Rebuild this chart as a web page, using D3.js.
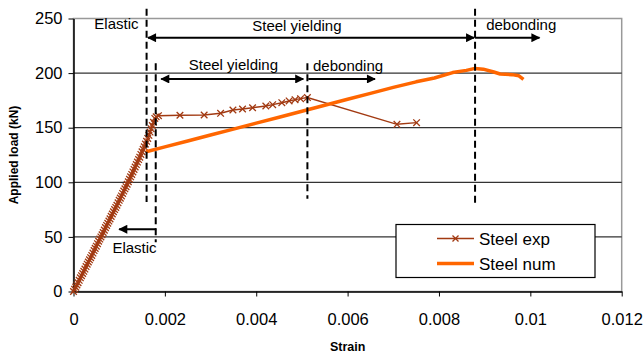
<!DOCTYPE html>
<meta charset="utf-8">
<style>
body { margin: 0; background: #fff; }
text { font-family: Arial, "Liberation Sans", sans-serif; fill: #000; }
.tick text { font-size: 16.5px; }
.axis path, .axis line { stroke: #000; }
.grid line { stroke: #333; stroke-width: 1.2px; }
.note { font-size: 15px; }
.vdash { stroke: #000; stroke-width: 2px; stroke-dasharray: 7,4; }
.arrow { stroke: #000; stroke-width: 2px; }
</style>
<svg width="644" height="355"></svg>
<script src="https://d3js.org/d3.v7.min.js"></script>
<script>

// Steel exp: strain, load (kN)
var expStrain = [0, 0.000025, 0.00005, 0.000075, 0.0001, 0.000125, 0.00015, 0.000175, 0.0002, 0.000225,
    0.00025, 0.000275, 0.0003, 0.000325, 0.00035, 0.000375, 0.0004, 0.000425, 0.00045, 0.000475,
    0.0005, 0.000525, 0.00055, 0.000575, 0.0006, 0.000625, 0.00065, 0.000675, 0.0007, 0.000725,
    0.00075, 0.000775, 0.0008, 0.000825, 0.00085, 0.000875, 0.0009, 0.000925, 0.00095, 0.000975,
    0.001, 0.001025, 0.00105, 0.001075, 0.0011, 0.001125, 0.00115, 0.001175, 0.0012, 0.001225,
    0.00125, 0.001275, 0.0013, 0.001325, 0.00135, 0.001375, 0.0014, 0.001425, 0.00145, 0.001475,
    0.0015, 0.001525, 0.00155, 0.001575, 0.0016, 0.001625, 0.00165, 0.001675, 0.0017, 0.001725,
    0.00175, 0.00178, 0.00181,
    0.00186, 0.00233, 0.00286, 0.00322, 0.00349, 0.0037, 0.00392, 0.00421, 0.00436,
    0.00456, 0.00472, 0.00485, 0.00497, 0.00512, 0.00708, 0.00751];
var expLoad = [0, 2, 4, 6, 8, 10.2, 12.5, 14.5, 16.5, 18.5,
    20.5, 22.8, 25, 27, 29, 31, 33, 35.2, 37.5, 39.5,
    41.5, 43.8, 46, 48, 50, 52, 54, 56.2, 58.5, 60.5,
    62.5, 64.5, 66.5, 68.8, 71, 73, 75, 77, 79, 81.2,
    83.5, 85.5, 87.5, 89.8, 92, 94, 96, 98.2, 100.5, 102.8,
    105, 107.2, 109.5, 111.8, 114, 116.2, 118.5, 120.8, 123, 125.5,
    128, 130.2, 132.5, 135, 137.5, 140.2, 143, 146, 149, 152,
    155, 158.5, 160,
    161, 161.4, 161.6, 163.2, 166.2, 167.1, 168.3, 169.9, 171.1,
    172.9, 174.5, 175.7, 176.6, 177.6, 153.1, 154.6];

// Steel num: strain, load (kN)
var numStrain = [0.00159, 0.002, 0.0025, 0.003, 0.0035, 0.004, 0.0045, 0.005, 0.0055, 0.006,
    0.0065, 0.007, 0.0075, 0.0079, 0.0083, 0.0086, 0.00879, 0.00897, 0.0092, 0.00934,
    0.0096, 0.00975, 0.00985];
var numLoad = [128, 132.4, 137.8, 143.3, 148.7, 154.2, 159.6, 165.1, 170.5, 176,
    181.4, 186.9, 192, 195.5, 200.5, 202.5, 204.3, 203.6, 201, 199.2,
    198.6, 197.5, 194.3];

var xTicks = [0, 0.002, 0.004, 0.006, 0.008, 0.01, 0.012];
var yTicks = [0, 50, 100, 150, 200, 250];

// dashed phase boundaries (strain, from load, to load)
var dashX = [0.0016, 0.0018, 0.00512, 0.00879];
var dashFrom = [82, 45, 85, 81];
var dashTo = [259, 209, 209, 259];

// phase arrows (strain from, strain to, load, double headed)
var arrowFrom = [0.00163, 0.00879, 0.00192, 0.00514, 0.00181];
var arrowTo = [0.00877, 0.0102, 0.00503, 0.0066, 0.001];
var arrowLoad = [232.4, 232.4, 194.6, 194.6, 57];
var arrowBoth = [true, false, true, false, false];

// phase labels
var noteText = ["Elastic", "Steel yielding", "debonding", "Steel yielding", "debonding", "Elastic"];
var noteX = [0.00094, 0.00489, 0.0098, 0.0035, 0.00601, 0.001335];
var noteY = [240, 238.8, 239.5, 202.8, 201.9, 35];

var svg = d3.select("svg");
var pLeft = 73.5, pRight = 621.7, pTop = 18.5, pBottom = 291.5;

var x = d3.scaleLinear().domain([0, 0.012]).range([pLeft, pRight]);
var y = d3.scaleLinear().domain([0, 250]).range([pBottom, pTop]);

var defs = svg.append("defs");
defs.append("marker")
    .attr("id", "head")
    .attr("viewBox", "0 0 10 10")
    .attr("refX", 9).attr("refY", 5)
    .attr("markerWidth", 10).attr("markerHeight", 9)
    .attr("markerUnits", "userSpaceOnUse")
    .attr("orient", "auto-start-reverse")
    .append("path")
    .attr("d", "M0,0 L10,5 L0,10 Z")
    .attr("fill", "#000");

// plot frame (gray) and gridlines
svg.append("rect")
    .attr("x", pLeft).attr("y", pTop)
    .attr("width", pRight - pLeft).attr("height", pBottom - pTop)
    .attr("fill", "none").attr("stroke", "#999").attr("stroke-width", 1.5);

svg.append("g").attr("class", "grid")
    .selectAll("line")
    .data(yTicks.filter(function (d) { return d > 0 && d < 250; }))
    .enter().append("line")
    .attr("x1", pLeft).attr("x2", pRight)
    .attr("y1", function (d) { return y(d); })
    .attr("y2", function (d) { return y(d); });

var xAxis = svg.append("g").attr("class", "axis")
    .attr("transform", "translate(0," + pBottom + ")")
    .call(d3.axisBottom(x).tickValues(xTicks).tickSize(5).tickSizeOuter(0)
        .tickFormat(function (d) { return d3.format("~g")(d); }));
xAxis.select(".domain").attr("stroke-width", 1.5);
xAxis.selectAll(".tick text").attr("dy", "1.55em");

var yAxis = svg.append("g").attr("class", "axis")
    .attr("transform", "translate(" + pLeft + ",0)")
    .call(d3.axisLeft(y).tickValues(yTicks).tickSize(5).tickSizeOuter(0));
yAxis.select(".domain").attr("stroke-width", 1.5);
yAxis.selectAll(".tick text").attr("x", -11);

svg.append("text")
    .attr("x", (pLeft + pRight) / 2).attr("y", 351)
    .attr("text-anchor", "middle")
    .style("font-size", "12.5px").style("font-weight", "bold")
    .text("Strain");

svg.append("text")
    .attr("transform", "translate(18," + (pBottom + pTop) / 2 + ") rotate(-90)")
    .attr("text-anchor", "middle")
    .style("font-size", "12px").style("font-weight", "bold")
    .text("Applied load (kN)");

// series
var line = d3.line()
    .x(function (d) { return x(d[0]); })
    .y(function (d) { return y(d[1]); });

var expData = expStrain.map(function (s, i) { return [s, expLoad[i]]; });
var numData = numStrain.map(function (s, i) { return [s, numLoad[i]]; });

var expColor = "#a23a12", numColor = "#ff6600";

function cross(g, cx, cy, r) {
    g.append("path")
        .attr("d", "M" + (cx - r) + "," + (cy - r) + "L" + (cx + r) + "," + (cy + r) +
            "M" + (cx - r) + "," + (cy + r) + "L" + (cx + r) + "," + (cy - r))
        .attr("stroke", expColor).attr("stroke-width", 1.3).attr("fill", "none");
}

svg.append("path")
    .datum(expData)
    .attr("d", line)
    .attr("fill", "none").attr("stroke", expColor).attr("stroke-width", 1.4);

var marks = svg.append("g");
expData.forEach(function (d) { cross(marks, x(d[0]), y(d[1]), 3.3); });

svg.append("path")
    .datum(numData)
    .attr("d", line)
    .attr("fill", "none").attr("stroke", numColor).attr("stroke-width", 3.5)
    .attr("stroke-linejoin", "round");

// phase boundaries
svg.append("g").selectAll("line")
    .data(dashX)
    .enter().append("line")
    .attr("class", "vdash")
    .attr("x1", function (d) { return x(d); })
    .attr("x2", function (d) { return x(d); })
    .attr("y1", function (d, i) { return y(dashTo[i]); })
    .attr("y2", function (d, i) { return y(dashFrom[i]); });

svg.append("g").selectAll("line")
    .data(arrowFrom)
    .enter().append("line")
    .attr("class", "arrow")
    .attr("x1", function (d) { return x(d); })
    .attr("x2", function (d, i) { return x(arrowTo[i]); })
    .attr("y1", function (d, i) { return y(arrowLoad[i]); })
    .attr("y2", function (d, i) { return y(arrowLoad[i]); })
    .attr("marker-end", "url(#head)")
    .attr("marker-start", function (d, i) { return arrowBoth[i] ? "url(#head)" : null; });

svg.append("g").selectAll("text")
    .data(noteText)
    .enter().append("text")
    .attr("class", "note")
    .attr("text-anchor", "middle")
    .attr("x", function (d, i) { return x(noteX[i]); })
    .attr("y", function (d, i) { return y(noteY[i]); })
    .text(function (d) { return d; });

// legend
var lg = svg.append("g").attr("transform", "translate(396,224.5)");
lg.append("rect")
    .attr("width", 199).attr("height", 53)
    .attr("fill", "#fff").attr("stroke", "#000").attr("stroke-width", 1.2);
lg.append("line")
    .attr("x1", 41).attr("x2", 78).attr("y1", 14).attr("y2", 14)
    .attr("stroke", expColor).attr("stroke-width", 1.4);
cross(lg, 59.5, 14, 3);
lg.append("line")
    .attr("x1", 41).attr("x2", 78).attr("y1", 39).attr("y2", 39)
    .attr("stroke", numColor).attr("stroke-width", 3.5);
lg.append("text").attr("x", 83).attr("y", 20).style("font-size", "17px").text("Steel exp");
lg.append("text").attr("x", 83).attr("y", 45).style("font-size", "17px").text("Steel num");

</script>
